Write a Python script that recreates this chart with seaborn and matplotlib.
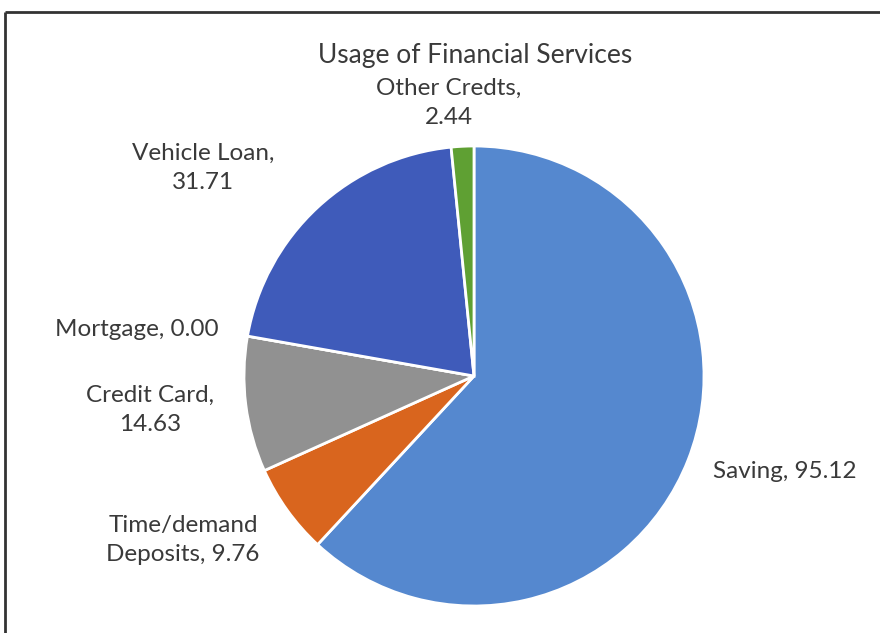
import matplotlib
matplotlib.use("Agg")
import matplotlib.pyplot as plt
import seaborn as sns

# Data
categories = ["Saving", "Time/demand\nDeposits", "Credit Card", "Mortgage", "Vehicle Loan", "Other Credts"]
values = [95.12, 9.76, 14.63, 0.00, 31.71, 2.44]
colors = ["#5588CF", "#D9651E", "#919191", "#E8B400", "#3F5BBA", "#5FA033"]
title = "Usage of Financial Services"

sns.set_theme(style="white")
plt.rcParams["font.family"] = ["Lato", "DejaVu Sans"]

W, H = 880, 633
fig = plt.figure(figsize=(W / 100, H / 100), dpi=100)
ax = fig.add_axes([0, 0, 1, 1])

cx, cy, r = 474, H - 376, 230
ax.pie(values, colors=sns.color_palette(colors), startangle=90, counterclock=False,
       center=(cx, cy), radius=r, frame=True,
       wedgeprops=dict(edgecolor="white", linewidth=2))
ax.set_xlim(0, W)
ax.set_ylim(0, H)
ax.set_aspect("equal")
ax.axis("off")

# frame lines (top and left)
ax.plot([5, W], [H - 12, H - 12], color="#333333", lw=2, solid_capstyle="butt")
ax.plot([5, 5], [0, H - 12], color="#333333", lw=2, solid_capstyle="butt")

tc = "#3a3a3a"
fs = 17.5
ls = 1.5
ax.text(475, H - 56, title, ha="center", va="center", fontsize=19, color=tc)

def lab(i):
    return f"{categories[i]}, {values[i]:.2f}"

# label placements (x, y in pixels from top)
ax.text(785, H - 471, lab(0), ha="center", va="center", fontsize=fs, color=tc)
ax.text(183, H - 540, lab(1), ha="center", va="center", fontsize=fs, color=tc, linespacing=ls)
ax.text(150, H - 410, f"{categories[2]},\n{values[2]:.2f}", ha="center", va="center", fontsize=fs, color=tc, linespacing=ls)
ax.text(137, H - 330, lab(3), ha="center", va="center", fontsize=fs, color=tc)
ax.text(203, H - 168, f"{categories[4]},\n{values[4]:.2f}", ha="center", va="center", fontsize=fs, color=tc, linespacing=ls)
ax.text(449, H - 103, f"{categories[5]},\n{values[5]:.2f}", ha="center", va="center", fontsize=fs, color=tc, linespacing=ls)

fig.savefig("out.png", dpi=100, facecolor="white")
